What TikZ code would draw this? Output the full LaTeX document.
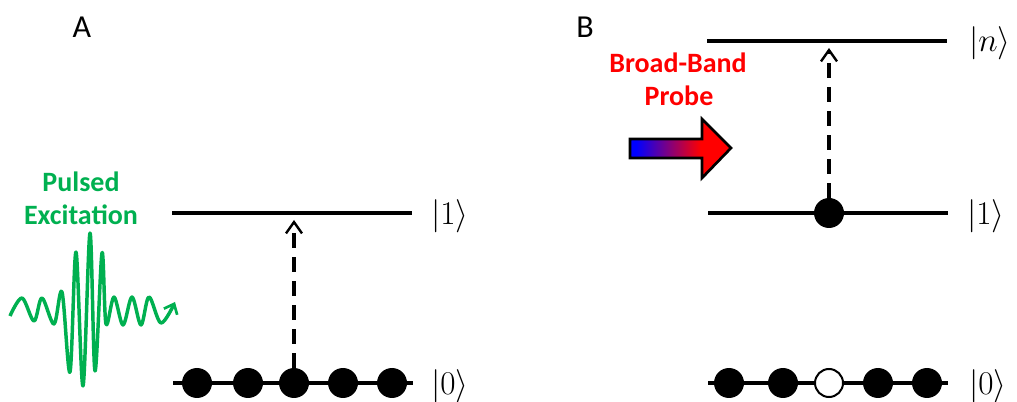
\documentclass[tikz,border=0pt]{standalone}
\usepackage[no-math]{fontspec}
\setmainfont{Carlito}
\usetikzlibrary{arrows.meta}
\definecolor{pgreen}{RGB}{0,176,80}
\pgfdeclarehorizontalshading{probeshade}{100bp}{color(0bp)=(blue); color(28bp)=(blue); color(60bp)=(red); color(100bp)=(red)}
\begin{document}
\begin{tikzpicture}[x=0.75pt,y=-0.75pt,
  level/.style={line width=3pt},
  ground/.style={line width=2.5pt},
  dot/.style={circle,fill=black,inner sep=0pt,minimum size=22.5pt},
  hole/.style={circle,draw=black,fill=white,line width=1.5pt,inner sep=0pt,minimum size=21pt},
  trans/.style={line width=2.4pt,dash pattern=on 11pt off 7pt,-{Straight Barb[length=8.5pt,width=12pt,line width=1.8pt]}},
  ket/.style={anchor=west,inner sep=0pt,font=\fontsize{26}{30}\selectfont},
  panel/.style={font=\fontsize{24}{28}\selectfont,inner sep=0pt},
  lab/.style={font=\bfseries\fontsize{21}{25}\selectfont,anchor=base,inner sep=0pt},
  wave/.style={pgreen,line width=2.6pt,line join=round,-{Straight Barb[length=6.5pt,width=11pt,line width=2pt]}}]
\useasboundingbox (0,0) rectangle (1017,402);

% ---------- Panel A ----------
\node[panel] (A) at (82,27) {A};
\coordinate (a1l) at (172,213);
\coordinate (a1r) at (412,213);
\draw[level] (a1l) -- (a1r);
\coordinate (a0l) at (173,383);
\coordinate (a0r) at (413,383);
\draw[ground] (a0l) -- (a0r);
\node[dot] (a0) at (197,383) {};
\node[dot] (a1) at (248,383) {};
\node[dot] (a2) at (294,383) {};
\node[dot] (a3) at (343,383) {};
\node[dot] (a4) at (392,383) {};
\coordinate (atip) at (294,220);
\draw[trans] (a2.north) -- (atip);
\node[ket] (ka1) at (431,216) {$|1\rangle$};
\node[ket] (ka0) at (431,386) {$|0\rangle$};

\node[lab,pgreen] (pulsed) at (81,192) {Pulsed};
\node[lab,pgreen] (excit) at (81,225) {Excitation};
\draw[wave] plot[smooth,tension=0.55] coordinates {
  (10,316) (22,298) (34,321) (42,298) (54,324) (62,292) (70,372) (76,252)
  (83,386) (90,233) (95,371) (102,253) (106,324) (114,297) (123,325)
  (132,297) (141,325) (149,297) (161,323) (175,302)};

% ---------- Panel B ----------
\node[panel] (B) at (585,27) {B};
\coordinate (bnl) at (707,41);
\coordinate (bnr) at (947,41);
\draw[level] (bnl) -- (bnr);
\coordinate (b1l) at (708,213);
\coordinate (b1r) at (948,213);
\draw[level] (b1l) -- (b1r);
\node[dot] (bx) at (829,213) {};
\coordinate (btip) at (829,48);
\draw[trans] (bx.north) -- (btip);
\coordinate (b0l) at (708,383);
\coordinate (b0r) at (948,383);
\draw[ground] (b0l) -- (b0r);
\node[dot] (b0) at (729,383) {};
\node[dot] (b1) at (783,383) {};
\node[hole] (b2) at (829,383) {};
\node[dot] (b3) at (878,383) {};
\node[dot] (b4) at (927,383) {};
\node[ket] (kbn) at (969,43) {$|n\rangle$};
\node[ket] (kb1) at (967,216) {$|1\rangle$};
\node[ket] (kb0) at (969,386) {$|0\rangle$};

\node[lab,red] (broad) at (678,73) {Broad-Band};
\node[lab,red] (probe) at (679,106) {Probe};
\shadedraw[shading=probeshade,draw=black,line width=2pt,line join=miter]
  (630,139) -- (702,139) -- (702,119) -- (731,148) -- (702,178) -- (702,158) -- (630,158) -- cycle;
\end{tikzpicture}
\end{document}
